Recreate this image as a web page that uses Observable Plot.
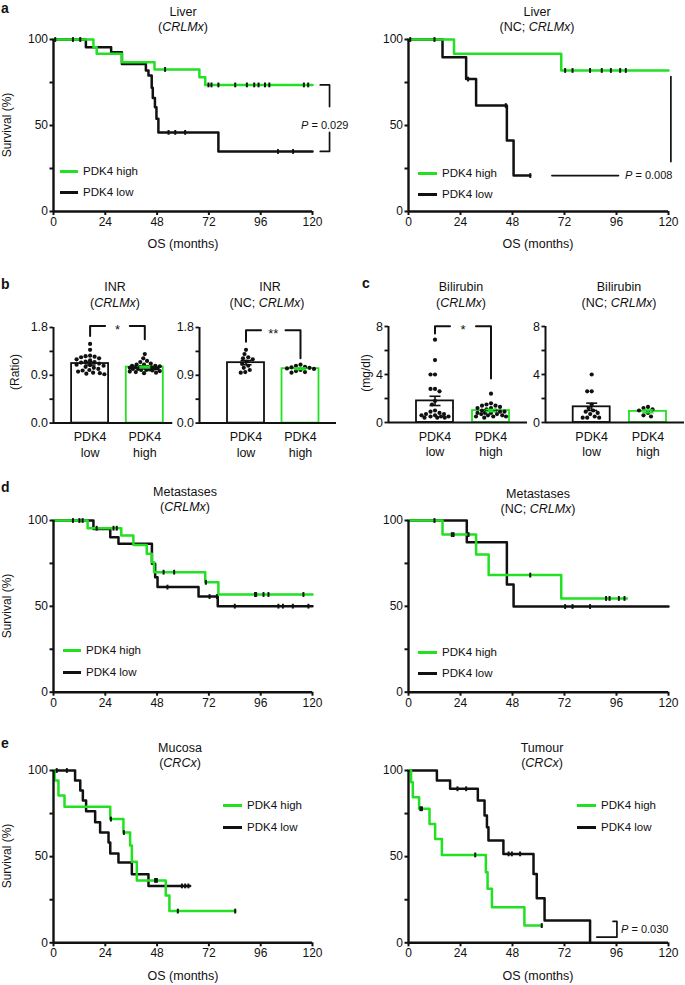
<!DOCTYPE html>
<html><head><meta charset="utf-8">
<script src="https://cdn.jsdelivr.net/npm/d3@7"></script>
<script src="https://cdn.jsdelivr.net/npm/@observablehq/plot@0.6"></script>
<style>
html,body{margin:0;padding:0;background:#fff;}
#fig{position:relative;width:685px;height:985px;overflow:hidden;font-family:'Liberation Sans',Arial,Helvetica,sans-serif;color:#111;}
#fig svg{position:absolute;overflow:visible;}
.t{position:absolute;white-space:nowrap;line-height:1;}
.leg{position:absolute;height:3px;}
</style></head><body><div id="fig"></div>
<script>
// ---------- shared labels ----------
const months = [0, 24, 48, 72, 96, 120];
const survTicks = [0, 50, 100];
const survMinor = [25, 75];
const groupLabels = ["PDK4\nlow", "PDK4\nhigh"];
const legendLabels = ["PDK4 high", "PDK4 low"];

// ---------- a: Liver (CRLMx) ----------
const liverHighT = [0, 18.5, 20, 31.7, 46.8, 67.6, 70.3, 120];
const liverHighS = [100, 95.5, 91.7, 86.8, 82.6, 78, 73.6, 73.6];
const liverHighC = [0.8, 51.7, 71.8, 73.2, 76.4, 84.2, 89.6, 93, 95, 98, 100, 116, 118];
const liverLowT = [0, 15, 26.7, 31.7, 42.8, 44, 45.5, 46, 47, 47.7, 48.6, 76.4, 120];
const liverLowS = [100, 95.5, 92.6, 85.8, 82, 79, 72, 66, 60.6, 53.9, 46, 34.9, 34.9];
const liverLowC = [9, 12.4, 53.3, 56.4, 61, 104, 111];
// ---------- a: Liver (NC; CRLMx) ----------
const liverNcHighT = [0, 21, 70.5, 120];
const liverNcHighS = [100, 91.7, 82, 82];
const liverNcHighC = [0.8, 12, 72.3, 75.7, 83.8, 89.2, 93.4, 97.7, 100.3];
const liverNcLowT = [0, 15.7, 26.6, 31.2, 45.4, 48.5, 56.2];
const liverNcLowS = [100, 89.7, 77, 61.6, 41.3, 20.9, 20.9];
const liverNcLowC = [27.5, 44.9, 56.2];
// ---------- d: Metastases (CRLMx) ----------
const metHighT = [0, 15.8, 31.4, 37, 43.2, 45.6, 46.6, 70.3, 76.4, 120];
const metHighS = [100, 95.5, 91.3, 85.8, 80.6, 75.7, 69.9, 64, 56.9, 56.9];
const metHighC = [9, 12, 20, 27.8, 29.3, 51, 55.9, 70.6, 93.4, 93.9, 97.3, 99.6, 115.8];
const metLowT = [0, 18.5, 26.3, 30.1, 45.6, 47.1, 48.2, 67.2, 76.1, 120];
const metLowS = [100, 95.1, 90.3, 86.4, 74.8, 67, 61.2, 55.7, 50.1, 50.1];
const metLowC = [13.5, 52.8, 72.3, 75.7, 84, 104.2, 106.3, 110.9, 118.1];
// ---------- d: Metastases (NC; CRLMx) ----------
const metNcHighT = [0, 15.7, 31.2, 37, 70.5, 100.8];
const metNcHighS = [100, 91.8, 80.2, 68.2, 54.6, 54.6];
const metNcHighC = [12, 20, 20.8, 27.7, 56.2, 91.2, 92.8, 97.1, 99.7];
const metNcLowT = [0, 26.9, 45.4, 48.5, 120];
const metNcLowS = [100, 87.4, 62.7, 49.9, 49.9];
const metNcLowC = [72.3, 75.7, 83.8];
// ---------- e: Mucosa (CRCx) ----------
const mucHighT = [0, 0.5, 2.3, 5.1, 26.3, 32.4, 35.5, 36.3, 38.6, 52, 53.7, 84.2];
const mucHighS = [100, 94.2, 85.5, 79, 71.8, 64, 56.5, 47, 36.2, 27.5, 18.4, 18.4];
const mucHighC = [26.6, 32.6, 47.1, 47.9, 57.6, 84.2];
const mucLowT = [0, 10, 12.4, 13.6, 15.1, 19.3, 21.6, 25.5, 26.3, 30.1, 36.3, 44, 63.3];
const mucLowS = [100, 94.2, 88.4, 82.6, 76.4, 70, 64, 58.2, 51.8, 46.6, 39.8, 33, 33];
const mucLowC = [1.5, 6.2, 59.5, 61, 62.5];
// ---------- e: Tumour (CRCx) ----------
const tumHighT = [0, 1.2, 2, 4.9, 9.7, 12.3, 15.4, 35.7, 36.5, 38.5, 53.5, 61.5];
const tumHighS = [100, 93.2, 84.5, 77.8, 69, 60.3, 51, 41, 31.3, 20.7, 10, 10];
const tumHighC = [5.5, 6.2, 30.8, 61.5];
const tumLowT = [0, 13.1, 19.2, 32, 35.1, 36.2, 36.9, 43.8, 57.7, 59.2, 62.8, 83.8];
const tumLowS = [100, 94.2, 89.4, 82.6, 73.9, 67, 59.4, 51.6, 40, 25.9, 13, 0];
const tumLowC = [22.6, 26.6, 46.2, 47.7, 51.5];

// ---------- P-value brackets (months, survival %) ----------
const pLiverX = [123.6, 127.9];
const pLiverY = [73.6, 61, 46, 34.9];
const pLiverNcX = [66.2, 96.9, 121.1];
const pLiverNcY = [78.5, 29, 20.9];
const pTumX = [86.9, 96.2, 94.4];
const pTumY = [3.3, 12.4];

// ---------- b / c: dot + bar values ----------
const inrLow = [1.49,1.38,1.27,1.26,1.25,1.24,1.22,1.20,1.18,1.16,1.15,1.14,1.12,1.10,1.09,1.08,1.06,1.04,1.02,1.00,0.99,0.97,0.95,0.94,0.93,0.92];
const inrHigh = [1.30,1.22,1.17,1.15,1.12,1.10,1.10,1.08,1.08,1.07,1.06,1.06,1.05,1.05,1.04,1.04,1.03,1.03,1.02,1.02,1.01,1.00,1.00,0.99,0.98,0.97,0.96,0.95,0.94];
const inrNcLow = [1.38,1.30,1.24,1.22,1.20,1.16,1.12,1.08,1.04,1.00,0.96,0.95];
const inrNcHigh = [1.10,1.08,1.06,1.05,1.04,1.03,1.02,1.00,0.98,0.96,0.95];
const biliLow = [6.9,5.2,4.0,4.0,2.8,2.8,2.6,1.8,1.5,1.0,0.9,0.8,0.7,0.7,0.6,0.6,0.5,0.5,0.5,0.4,0.4,0.4];
const biliHigh = [2.4,1.6,1.5,1.4,1.4,1.3,1.2,1.2,1.1,1.0,1.0,0.9,0.9,0.8,0.8,0.8,0.7,0.7,0.6,0.6,0.5,0.5,0.5,0.4];
const biliNcLow = [4.0,2.6,2.6,1.5,1.2,1.0,0.9,0.8,0.7,0.5,0.4,0.4,0.4];
const biliNcHigh = [1.3,1.2,1.1,1.0,0.8,0.6,0.5];
const inrTicks = [0, 0.9, 1.8], inrMinor = [0.45, 1.35];
const biliTicks = [0, 4, 8], biliMinor = [2, 6];

// ---------- styling ----------
const GREEN = "#22e022", BLACK = "#111111";
const FONT = "'Liberation Sans', Arial, Helvetica, sans-serif";
const fig = document.getElementById("fig");

function label(html, x, y, o = {}) {
  const d = document.createElement("div");
  d.className = "t";
  d.innerHTML = html;
  d.style.left = x + "px"; d.style.top = y + "px";
  d.style.fontSize = (o.size || 12.5) + "px";
  if (o.bold) d.style.fontWeight = "bold";
  const tx = o.anchor === "start" ? "0" : o.anchor === "end" ? "-100%" : "-50%";
  d.style.transform = `translate(${tx},-50%)` + (o.rotate ? ` rotate(${o.rotate}deg)` : "");
  fig.appendChild(d);
}
function legend(x1, x2, y, gap) {
  legendLabels.forEach((name, i) => {
    const yy = Math.round(y + i * gap);
    const l = document.createElement("div"); l.className = "leg";
    l.style.left = Math.round(x1) + "px"; l.style.width = Math.round(x2 - x1) + "px"; l.style.top = (yy - 1) + "px";
    l.style.background = i === 0 ? GREEN : BLACK;
    fig.appendChild(l);
    label(name, x2 + 5, yy + 0.5, {anchor: "start", size: 11.5});
  });
}
function survAt(T, S, t) { let v = S[0]; T.forEach((ti, i) => { if (ti <= t) v = S[i]; }); return v; }
const vtick = { draw(ctx, size) { const h = Math.sqrt(size / Math.PI); ctx.moveTo(0, -h); ctx.lineTo(0, h); } };
const seg = pts => pts.map(([x, y]) => ({x, y}));

function place(svg, left, top) { svg.style.left = left + "px"; svg.style.top = top + "px"; fig.appendChild(svg); }

function km(frame, curves, brackets = []) {
  const [x0, x1, y0, y1] = frame;
  const ml = 34, mr = 6, mt = 6, mb = 22;
  const marks = [];
  curves.forEach(c => {
    const pts = c.t.map((t, i) => ({t, s: c.s[i]}));
    marks.push(Plot.line(pts, {x: "t", y: "s", curve: "step-after", stroke: c.color, strokeWidth: 2.5}));
  });
  curves.forEach(c => {
    const cs = c.c.map(t => ({t, s: survAt(c.t, c.s, t)}));
    marks.push(Plot.dot(cs, {x: "t", y: "s", symbol: vtick, r: 2.4, stroke: BLACK, strokeWidth: 2}));
  });
  marks.push(Plot.ruleY([0], {strokeWidth: 2.4, stroke: BLACK}), Plot.ruleX([0], {strokeWidth: 2.4, stroke: BLACK}));
  marks.push(Plot.axisX(months, {tickSize: 4, tickPadding: 2, strokeWidth: 2, label: null}));
  marks.push(Plot.axisY(survTicks, {tickSize: 3.5, tickPadding: 2, strokeWidth: 2, label: null}));
  marks.push(Plot.axisY(survMinor, {tickSize: 3.5, strokeWidth: 2, tickFormat: () => "", label: null}));
  brackets.forEach(b => marks.push(Plot.line(b, {x: "x", y: "y", stroke: BLACK, strokeWidth: 1.7})));
  const svg = Plot.plot({
    width: (x1 - x0) + ml + mr, height: (y1 - y0) + mt + mb,
    marginLeft: ml, marginRight: mr, marginTop: mt, marginBottom: mb,
    x: {domain: [0, 120], label: null}, y: {domain: [0, 100], label: null},
    style: {fontFamily: FONT, fontSize: "12px", background: "transparent", overflow: "visible", color: BLACK},
    marks
  });
  place(svg, x0 - ml, y0 - mt);
}

function bars(frame, centers, yMax, ticks, minor, fmt, groups, br) {
  const [x0, x1, y0, y1] = frame;
  const k = centers[1] - centers[0];
  const xd = [(x0 - centers[0]) / k, (x1 - centers[0]) / k];
  const ml = 30, mr = 2, mt = 8, mb = 36;
  const py = v => y1 - v / yMax * (y1 - y0);
  const r = 2.1, hw = 18.5 / k, cap = 5.5 / k, arm = 15 / k, maxOff = 15;
  const cands = d3.range(-maxOff, maxOff + 0.01, 0.75).sort((a, b) => Math.abs(a) - Math.abs(b));
  const marks = [];
  groups.forEach((g, i) => {
    const n = g.v.length, m = d3.mean(g.v), se = d3.deviation(g.v) / Math.sqrt(n);
    const s = {i, m, lo: m - se, hi: m + se};
    marks.push(Plot.rect([s], {x1: d => d.i - hw, x2: d => d.i + hw, y1: () => 0, y2: d => d.m, fill: "white", stroke: g.color, strokeWidth: 1.8}));
    // swarm layout of the points, kept inside the bar width
    const placed = [], pts = [];
    [...g.v].sort((a, b) => b - a).forEach(v => {
      const y = py(v);
      let best = 0, bestD = -1;
      for (const off of cands) {
        const dmin = placed.length ? d3.min(placed, p => Math.hypot(p.x - off, p.y - y)) : Infinity;
        if (dmin >= 2 * r + 0.3) { best = off; bestD = Infinity; break; }
        if (dmin > bestD) { bestD = dmin; best = off; }
      }
      placed.push({x: best, y});
      pts.push({x: i + best / k, v});
    });
    marks.push(Plot.dot(pts, {x: "x", y: "v", r, fill: BLACK}));
    marks.push(Plot.link([s], {x1: d => d.i, x2: d => d.i, y1: d => d.lo, y2: d => d.hi, stroke: g.color, strokeWidth: 1.6}));
    marks.push(Plot.link([s], {x1: d => d.i - cap, x2: d => d.i + cap, y1: d => d.hi, y2: d => d.hi, stroke: g.color, strokeWidth: 1.6}));
    marks.push(Plot.link([s], {x1: d => d.i - cap, x2: d => d.i + cap, y1: d => d.lo, y2: d => d.lo, stroke: g.color, strokeWidth: 1.6}));
  });
  marks.push(Plot.ruleY([0], {strokeWidth: 2, stroke: BLACK}), Plot.ruleX([xd[0]], {strokeWidth: 2, stroke: BLACK}));
  marks.push(Plot.axisY(ticks, {tickSize: 3.5, tickPadding: 2, strokeWidth: 1.8, tickFormat: fmt, label: null}));
  marks.push(Plot.axisY(minor, {tickSize: 3.5, strokeWidth: 1.8, tickFormat: () => "", label: null}));
  marks.push(Plot.text(groupLabels, {x: (d, i) => i, y: () => 0, text: d => d, lineAnchor: "top", dy: 7, lineHeight: 1.25, fontSize: 12.5}));
  if (br) {
    marks.push(Plot.line(seg([[0, br[1]], [0, br[0]], [arm, br[0]]]), {x: "x", y: "y", stroke: BLACK, strokeWidth: 2}));
    marks.push(Plot.line(seg([[1 - arm, br[0]], [1, br[0]], [1, br[2]]]), {x: "x", y: "y", stroke: BLACK, strokeWidth: 2}));
    marks.push(Plot.text([br[3]], {x: () => 0.5, y: () => br[0], text: d => d, dy: 4, fontSize: 13}));
  }
  const svg = Plot.plot({
    width: (x1 - x0) + ml + mr, height: (y1 - y0) + mt + mb,
    marginLeft: ml, marginRight: mr, marginTop: mt, marginBottom: mb,
    x: {domain: xd, label: null, axis: null}, y: {domain: [0, yMax], label: null},
    style: {fontFamily: FONT, fontSize: "12.5px", background: "transparent", overflow: "visible", color: BLACK},
    marks
  });
  place(svg, x0 - ml, y0 - mt);
}

// ---------- panel a ----------
km([53.3, 312.3, 39, 211], [
  {t: liverLowT, s: liverLowS, c: liverLowC, color: BLACK},
  {t: liverHighT, s: liverHighS, c: liverHighC, color: GREEN}
], [
  seg([[pLiverX[0], pLiverY[0]], [pLiverX[1], pLiverY[0]], [pLiverX[1], pLiverY[1]]]),
  seg([[pLiverX[1], pLiverY[2]], [pLiverX[1], pLiverY[3]], [pLiverX[0], pLiverY[3]]])
]);
km([408.3, 668.3, 39, 211], [
  {t: liverNcLowT, s: liverNcLowS, c: liverNcLowC, color: BLACK},
  {t: liverNcHighT, s: liverNcHighS, c: liverNcHighC, color: GREEN}
], [
  seg([[pLiverNcX[2], pLiverNcY[0]], [pLiverNcX[2], pLiverNcY[1]]]),
  seg([[pLiverNcX[0], pLiverNcY[2]], [pLiverNcX[1], pLiverNcY[2]]])
]);
label("a", 1, 8, {bold: true, size: 14, anchor: "start"});
label("Liver", 183, 12); label("(<i>CRLMx</i>)", 183, 26.5);
label("Liver", 537, 12); label("(NC; <i>CRLMx</i>)", 537, 26.5);
label("Survival (%)", 7, 125, {rotate: -90, size: 12});
label("OS (months)", 183, 244); label("OS (months)", 538, 244);
label("<i>P</i> = 0.029", 301, 125, {anchor: "start", size: 11});
label("<i>P</i> = 0.008", 625, 175, {anchor: "start", size: 11});
legend(60, 78, 171, 21);
legend(418, 437, 173, 20.5);

// ---------- panel b ----------
label("b", 1, 284, {bold: true, size: 14, anchor: "start"});
label("INR", 115, 287); label("(<i>CRLMx</i>)", 115, 303);
label("INR", 270, 287); label("(NC; <i>CRLMx</i>)", 267, 303);
label("(Ratio)", 15, 372, {rotate: -90, size: 12});
bars([52.7, 172, 326.7, 422.3], [89.3, 144], 1.8, inrTicks, inrMinor, d3.format(".1f"),
  [{v: inrLow, color: BLACK}, {v: inrHigh, color: GREEN}], [1.83, 1.64, 1.58, "*"]);
bars([199, 336, 326.7, 422.3], [245.5, 300], 1.8, inrTicks, inrMinor, d3.format(".1f"),
  [{v: inrNcLow, color: BLACK}, {v: inrNcHigh, color: GREEN}], [1.75, 1.53, 1.22, "**"]);

// ---------- panel c ----------
label("c", 362, 283, {bold: true, size: 14, anchor: "start"});
label("Bilirubin", 461, 287); label("(<i>CRLMx</i>)", 461, 303);
label("Bilirubin", 619, 287); label("(NC; <i>CRLMx</i>)", 619, 303);
label("(mg/dl)", 366, 373, {rotate: -90, size: 12});
bars([388, 527, 326.3, 422.3], [434.5, 490.5], 8, biliTicks, biliMinor, d3.format("d"),
  [{v: biliLow, color: BLACK}, {v: biliHigh, color: GREEN}], [8.03, 7.42, 3.67, "*"]);
bars([545, 684, 326.3, 422.3], [591.2, 647.5], 8, biliTicks, biliMinor, d3.format("d"),
  [{v: biliNcLow, color: BLACK}, {v: biliNcHigh, color: GREEN}], null);

// ---------- panel d ----------
km([53.3, 312.3, 520, 691.7], [
  {t: metLowT, s: metLowS, c: metLowC, color: BLACK},
  {t: metHighT, s: metHighS, c: metHighC, color: GREEN}
]);
km([408.3, 668.3, 520, 691.7], [
  {t: metNcLowT, s: metNcLowS, c: metNcLowC, color: BLACK},
  {t: metNcHighT, s: metNcHighS, c: metNcHighC, color: GREEN}
]);
label("d", 1, 487, {bold: true, size: 14, anchor: "start"});
label("Metastases", 185, 492); label("(<i>CRLMx</i>)", 185, 507);
label("Metastases", 538, 494); label("(NC; <i>CRLMx</i>)", 538, 509);
label("Survival (%)", 7, 606, {rotate: -90, size: 12});
legend(63, 81, 650, 21.5);
legend(418, 437, 652, 21);

// ---------- panel e ----------
km([53.3, 312.3, 770, 942.3], [
  {t: mucLowT, s: mucLowS, c: mucLowC, color: BLACK},
  {t: mucHighT, s: mucHighS, c: mucHighC, color: GREEN}
]);
km([408.3, 668.3, 770, 942.3], [
  {t: tumLowT, s: tumLowS, c: tumLowC, color: BLACK},
  {t: tumHighT, s: tumHighS, c: tumHighC, color: GREEN}
], [
  seg([[pTumX[0], pTumY[0]], [pTumX[1], pTumY[0]], [pTumX[1], pTumY[1]], [pTumX[2], pTumY[1]]])
]);
label("e", 1, 743, {bold: true, size: 14, anchor: "start"});
label("Mucosa", 180, 748); label("(<i>CRCx</i>)", 180, 763);
label("Tumour", 542, 748); label("(<i>CRCx</i>)", 542, 763);
label("Survival (%)", 7, 856, {rotate: -90, size: 12});
label("OS (months)", 183, 976); label("OS (months)", 538, 976);
label("<i>P</i> = 0.030", 621, 929, {anchor: "start", size: 11});
legend(223, 242, 805, 21.5);
legend(577, 596, 805, 21.5);
</script></body></html>
